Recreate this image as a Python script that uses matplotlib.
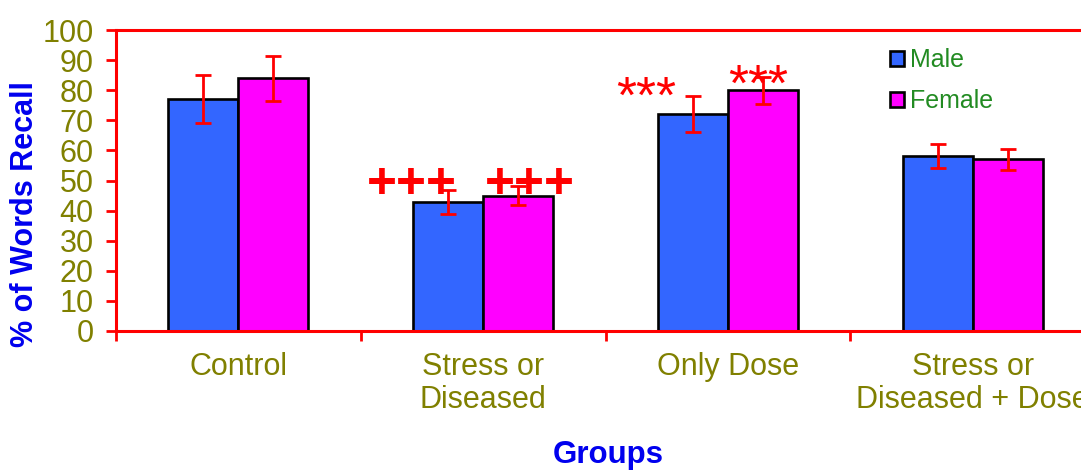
import numpy as np
import matplotlib
matplotlib.use('Agg')
import matplotlib.pyplot as plt

# data
groups = ['Control', 'Stress or\nDiseased', 'Only Dose', 'Stress or\nDiseased + Dose']
male = [77, 43, 72, 58]
male_err = [8, 4, 6, 4]
female = [84, 45, 80, 57]
female_err = [7.5, 3.2, 4.5, 3.5]

# significance marks: (text, x in group units, y value)
marks = ['+++', '+++', '***', '***']
mark_x = [1.21, 1.69, 2.165, 2.625]
mark_y = [44.2, 44.2, 72.5, 76.4]

plt.rcParams['font.family'] = ['Liberation Sans', 'DejaVu Sans']

olive = '#808000'
red = '#ff0000'
blue_lbl = '#0000ee'

fig = plt.figure(figsize=(10.81, 4.70), dpi=100)
ax = fig.add_axes([116 / 1081, 1 - 331 / 470, 979 / 1081, 301 / 470])

x = np.arange(len(groups)) + 0.5
w = 0.286
ax.bar(x - w / 2, male, w, color='#3366ff', edgecolor='black', linewidth=1.9, label='Male', zorder=2)
ax.bar(x + w / 2, female, w, color='#ff00ff', edgecolor='black', linewidth=1.9, label='Female', zorder=2)
ax.errorbar(x - w / 2, male, yerr=male_err, fmt='none', ecolor=red, elinewidth=2, capsize=5.5, capthick=2, zorder=3)
ax.errorbar(x + w / 2, female, yerr=female_err, fmt='none', ecolor=red, elinewidth=2, capsize=5.5, capthick=2, zorder=3)

for t, mx, my in zip(marks, mark_x, mark_y):
    ax.text(mx, my, t, color=red, fontsize=37, fontweight='bold' if t == '+++' else 'normal',
            ha='center', va='baseline', zorder=4)

ax.set_xlim(0, len(groups))
ax.set_ylim(0, 100)
ax.set_yticks(np.arange(0, 101, 10))
ax.set_xticks(x)
ax.set_xticklabels(groups, linespacing=1.15)
ax.set_xticks(np.arange(0, len(groups) + 1), minor=True)
ax.tick_params(axis='x', which='major', length=0, pad=15, labelsize=22, labelcolor=olive)
ax.tick_params(axis='x', which='minor', length=7, width=2, color=red, direction='out')
ax.tick_params(axis='y', length=7, width=2, color=red, direction='out', pad=9, labelsize=22, labelcolor=olive)

for s in ['left', 'bottom', 'top']:
    ax.spines[s].set_color(red)
    ax.spines[s].set_linewidth(2.2)
ax.spines['right'].set_visible(False)

fig.text(25 / 1081, 1 - 214 / 470, '% of Words Recall', rotation=90, color=blue_lbl,
         fontsize=22, fontweight='bold', ha='center', va='center')
fig.text(608 / 1081, 1 - 455 / 470, 'Groups', color=blue_lbl, fontsize=22.5,
         fontweight='bold', ha='center', va='center')

leg = ax.legend(loc='upper left', bbox_to_anchor=(890 / 1081, 1 - 48 / 470),
                bbox_transform=fig.transFigure, frameon=False, fontsize=18,
                handlelength=0.55, handleheight=0.55, handletextpad=0.25,
                labelspacing=0.68, borderpad=0, borderaxespad=0)
for t in leg.get_texts():
    t.set_color('#228b22')

fig.savefig('out.png', dpi=100)
